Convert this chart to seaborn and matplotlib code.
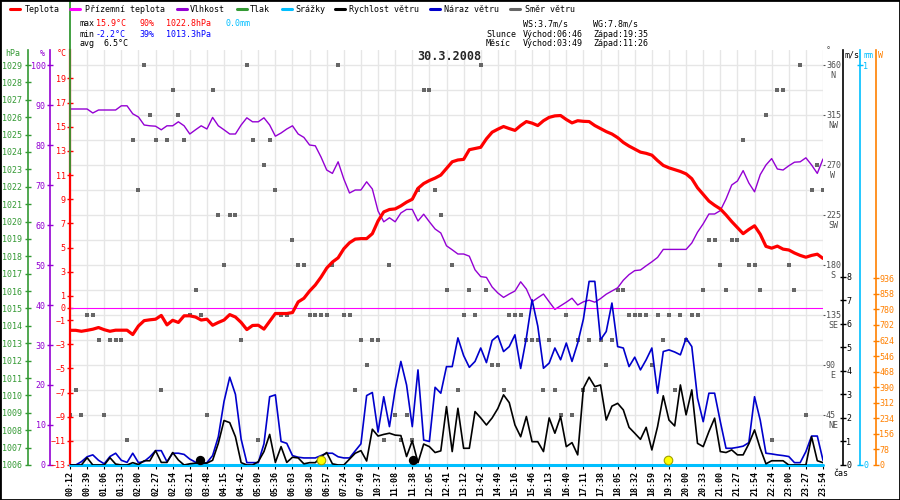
import numpy as np
import pandas as pd
import matplotlib
matplotlib.use("Agg")
import matplotlib.pyplot as plt
import matplotlib.transforms as mtransforms
from matplotlib.lines import Line2D
from matplotlib.patches import Rectangle
import seaborn as sns

# popisky casu na ose x (kazdy treti vzorek)
cas_labels = ["00:12", "00:39", "01:06", "01:33", "02:00", "02:27", "02:54", "03:21",
              "03:48", "04:15", "04:42", "05:09", "05:36", "06:03", "06:30", "06:57",
              "07:24", "07:49", "10:37", "11:08", "11:38", "12:05", "12:41", "13:12",
              "13:42", "14:49", "15:16", "15:46", "16:13", "16:40", "17:11", "17:38",
              "18:05", "18:32", "18:59", "19:32", "20:00", "20:33", "21:00", "21:27",
              "21:54", "22:24", "23:00", "23:27", "23:54"]

teplota = [-1.85, -1.85, -1.93, -1.85, -1.76, -1.62, -1.8, -1.93, -1.84, -1.84,
           -1.84, -2.2, -1.49, -1.05, -0.98, -0.93, -0.62, -1.4, -1.02, -1.2,
           -0.65, -0.65, -0.75, -1.0, -0.93, -1.43, -1.2, -1.0, -0.55, -0.75,
           -1.2, -1.79, -1.45, -1.43, -1.75, -1.1, -0.46, -0.46, -0.46, -0.38,
           0.5, 0.8, 1.4, 1.9, 2.55, 3.3, 3.8, 4.15, 4.9, 5.4,
           5.7, 5.74, 5.74, 6.15, 7.2, 7.95, 8.15, 8.2, 8.45, 8.76,
           9.0, 9.9, 10.3, 10.55, 10.75, 11.0, 11.55, 12.1, 12.25, 12.3,
           13.1, 13.2, 13.3, 14.0, 14.55, 14.8, 15.02, 14.85, 14.7, 15.1,
           15.43, 15.3, 15.1, 15.5, 15.78, 15.9, 15.93, 15.6, 15.32, 15.5,
           15.45, 15.43, 15.1, 14.85, 14.6, 14.4, 14.1, 13.7, 13.4, 13.15,
           12.9, 12.8, 12.65, 12.2, 11.8, 11.6, 11.45, 11.3, 11.1, 10.7,
           9.95, 9.4, 8.85, 8.5, 8.2, 7.7, 7.15, 6.65, 6.15, 6.5,
           6.8, 6.1, 5.1, 4.95, 5.12, 4.87, 4.8, 4.55, 4.35, 4.2,
           4.35, 4.45, 4.1]

vlhkost = [89.0, 89.0, 89.0, 89.0, 88.0, 88.75, 88.75, 88.75, 88.75, 89.8,
           89.8, 87.8, 87.0, 85.0, 84.8, 84.7, 83.8, 84.8, 84.8, 85.8,
           84.8, 82.75, 83.8, 84.8, 84.0, 86.9, 84.8, 83.8, 82.75, 82.75,
           85.0, 86.8, 85.8, 85.8, 86.8, 85.0, 82.2, 83.0, 84.0, 84.8,
           82.75, 81.9, 80.0, 79.8, 77.0, 73.75, 72.9, 75.8, 71.5, 68.0,
           68.75, 68.75, 70.8, 69.0, 63.5, 60.8, 61.8, 60.8, 63.0, 63.9,
           63.9, 61.0, 62.7, 60.8, 59.0, 58.0, 54.8, 53.8, 52.75, 52.75,
           52.2, 48.8, 47.1, 46.9, 44.5, 43.0, 41.9, 42.75, 43.5, 45.8,
           44.0, 40.8, 41.8, 42.75, 40.8, 38.9, 39.8, 40.7, 41.7, 40.0,
           40.8, 41.2, 40.7, 41.6, 42.7, 43.5, 44.3, 46.2, 47.6, 48.6,
           48.75, 49.8, 50.8, 51.9, 53.9, 53.9, 53.9, 53.9, 53.9, 55.5,
           58.2, 60.3, 62.75, 62.75, 63.6, 66.5, 70.0, 71.0, 73.6, 70.5,
           68.3, 72.6, 75.0, 76.6, 74.0, 73.75, 74.8, 75.7, 75.8, 76.8,
           75.0, 72.9, 76.5]

rychlost = [0, 0, 0, 0.31, 0, 0, 0, 0.31, 0.04, 0,
            0, 0.1, 0.02, 0.18, 0.18, 0.61, 0.11, 0.11, 0.53, 0.21,
            0, 0.05, 0.08, 0.08, 0.08, 0.2, 0.92, 1.89, 1.8, 1.2,
            0.1, 0, 0, 0.14, 0.57, 1.3, 0.11, 0.78, 0.11, 0.33,
            0.3, 0.05, 0.1, 0.1, 0.35, 0.53, 0.05, 0, 0, 0.25,
            0.5, 0.61, 0.17, 1.52, 1.23, 1.3, 1.35, 1.27, 1.25, 0.36,
            1.03, 0.1, 0.89, 0.78, 0.53, 0.6, 2.48, 0.57, 2.41, 0.71,
            0.71, 2.27, 2.0, 1.7, 2.0, 2.4, 2.98, 2.65, 1.7, 1.2,
            2.06, 0.99, 0.99, 0.57, 2.0, 1.35, 2.06, 0.78, 0.95, 0.43,
            3.26, 3.73, 3.33, 3.4, 1.91, 2.5, 2.62, 2.34, 1.6, 1.35,
            1.09, 1.6, 0.64, 1.63, 2.94, 1.91, 1.66, 3.4, 2.13, 3.19,
            0.92, 0.78, 1.42, 1.99, 0.57, 0.53, 0.64, 0.43, 0.43, 0.9,
            1.49, 0.7, 0.05, 0.18, 0.18, 0.18, 0, 0, 0, 0,
            1.2, 0.18, 0.1]

naraz = [0, 0, 0.14, 0.35, 0.43, 0.2, 0.05, 0.36, 0.5, 0.2,
         0.11, 0.5, 0.1, 0.15, 0.35, 0.61, 0.61, 0.14, 0.5, 0.5,
         0.45, 0.25, 0.12, 0.05, 0.1, 0.4, 1.2, 2.7, 3.73, 3.0,
         1.1, 0.1, 0.1, 0.1, 0.9, 2.9, 2.98, 1.0, 0.92, 0.4,
         0.33, 0.3, 0.3, 0.3, 0.4, 0.5, 0.5, 0.35, 0.3, 0.3,
         0.6, 0.9, 2.95, 3.08, 1.4, 2.9, 1.63, 3.2, 4.4, 3.4,
         1.63, 4.04, 1.06, 1.0, 3.3, 3.05, 4.18, 4.18, 5.4, 4.65,
         4.15, 4.4, 4.97, 4.35, 5.29, 5.49, 4.82, 5.03, 5.53, 4.1,
         5.4, 7.02, 5.9, 4.11, 4.33, 4.97, 4.47, 5.18, 4.4, 5.18,
         6.2, 7.8, 7.8, 5.32, 5.67, 6.88, 5.03, 4.97, 4.18, 4.58,
         4.04, 4.47, 4.97, 3.05, 4.82, 4.89, 4.8, 4.68, 5.39, 5.03,
         2.84, 1.84, 3.05, 3.05, 1.84, 0.71, 0.71, 0.75, 0.8, 0.95,
         2.9, 1.9, 0.5, 0.47, 0.43, 0.4, 0.36, 0.1, 0.1, 0.57,
         1.23, 1.23, 0.2]

smer = [45, 67.5, 45, 135, 135, 112.5, 45, 112.5, 112.5, 112.5,
        22.5, 292.5, 247.5, 360, 315, 292.5, 67.5, 292.5, 337.5, 315,
        292.5, 135, 157.5, 135, 45, 337.5, 225, 180, 225, 225,
        112.5, 360, 292.5, 22.5, 270, 292.5, 247.5, 135, 135, 202.5,
        180, 180, 135, 135, 135, 135, 180, 360, 135, 135,
        67.5, 112.5, 90, 112.5, 112.5, 22.5, 180, 45, 22.5, 45,
        22.5, 247.5, 337.5, 337.5, 247.5, 225, 157.5, 180, 67.5, 135,
        157.5, 135, 360, 157.5, 90, 90, 67.5, 135, 135, 135,
        112.5, 112.5, 112.5, 67.5, 112.5, 67.5, 45, 135, 45, 112.5,
        67.5, 112.5, 67.5, 112.5, 90, 112.5, 157.5, 157.5, 135, 135,
        135, 135, 90, 135, 112.5, 135, 67.5, 135, 112.5, 135,
        135, 157.5, 202.5, 202.5, 180, 157.5, 202.5, 202.5, 292.5, 180,
        180, 157.5, 315, 22.5, 337.5, 337.5, 180, 157.5, 360, 45,
        247.5, 270, 247.5]

tlak_max = 1022.8
prizemni = 0.0
srazky = 0.0
# vychod / zapad (poloha ve vzorcich)
slunce = [44.0, 104.8]
mesic = [22.8, 60.1]
udalost_y = 0.2

smer_ticks = [45, 90, 135, 180, 225, 270, 315, 360]
smer_nazvy = ["NE", "E", "SE", "S", "SW", "W", "NW", "N"]
teplota_ticks = [19, 17, 15, 13, 11, 9, 7, 5, 3, 1, 0, -1, -3, -5, -7, -9, -11, -13]
vlhkost_ticks = list(range(0, 101, 10))
tlak_ticks = list(range(1006, 1030))
vitr_ticks = list(range(0, 9))
srazky_ticks = [0, 1]
zareni_ticks = list(range(0, 937, 78))

C_T, C_PRIZ, C_H, C_P = "#ff0000", "#ff00ff", "#9400d3", "#339933"
C_SR, C_V, C_N, C_S, C_W = "#00bfff", "#000000", "#0000cc", "#666666", "#ff8000"
C_GRID = "#e6e6e6"

sns.set_style("white")
plt.rcParams["font.family"] = ["DejaVu Sans Mono", "DejaVu Sans"]
plt.rcParams["font.size"] = 6

W_PX, H_PX = 900, 500
L, R, T, B = 70, 823, 50, 465


def fx(px):
    return px / W_PX


def fy(py):
    return 1 - py / H_PX


df = pd.DataFrame({
    "vzorek": np.arange(len(teplota)),
    "teplota": teplota,
    "vlhkost": vlhkost,
    "rychlost": rychlost,
    "naraz": naraz,
    "smer": smer,
})

fig = plt.figure(figsize=(9, 5), dpi=100)
ax = fig.add_axes([fx(L), fy(B), (R - L) / W_PX, (B - T) / H_PX])
ax_h = ax.twinx()
ax_t = ax.twinx()
ax_p = ax.twinx()
ax_w = ax.twinx()
ax_mm = ax.twinx()
ax_v = ax.twinx()
ax.yaxis.tick_right()

# data
sns.scatterplot(data=df, x="vzorek", y="smer", ax=ax, marker="s", s=10,
                color=C_S, linewidth=0, zorder=3)
sns.lineplot(data=df, x="vzorek", y="vlhkost", ax=ax_h, color=C_H, linewidth=1.0)
ax_t.axhline(prizemni, color=C_PRIZ, linewidth=0.8, zorder=1)
sns.lineplot(data=df, x="vzorek", y="teplota", ax=ax_t, color=C_T, linewidth=2.3)
ax_mm.axhline(srazky, color=C_SR, linewidth=2.2, clip_on=False)
sns.lineplot(data=df, x="vzorek", y="naraz", ax=ax_v, color=C_N, linewidth=1.2)
sns.lineplot(data=df, x="vzorek", y="rychlost", ax=ax_v, color=C_V, linewidth=1.2)
sns.scatterplot(x=mesic, y=[udalost_y] * len(mesic), ax=ax_v, color="black",
                s=45, linewidth=0, clip_on=False, zorder=5)
sns.scatterplot(x=slunce, y=[udalost_y] * len(slunce), ax=ax_v, color="#ffff00",
                edgecolor="#a0a000", s=38, linewidth=0.8, clip_on=False, zorder=5)


def osa(a, side, pos, color, lim, ticks, pad=1.0):
    for sp in a.spines.values():
        sp.set_visible(False)
    sp = a.spines[side]
    sp.set_visible(True)
    sp.set_position(("axes", pos))
    sp.set_color(color)
    sp.set_linewidth(1.2)
    if side == "left":
        a.yaxis.tick_left()
    else:
        a.yaxis.tick_right()
    a.set_ylim(*lim)
    a.set_yticks(ticks)
    a.tick_params(axis="y", colors=color, direction="inout", length=4, width=1,
                  labelsize=6, pad=pad, left=(side == "left"), right=(side == "right"))
    a.set_ylabel("")


span = R - L
osa(ax_t, "left", 0.0, C_T, (-13, -13 + 415 / 12.08), teplota_ticks)
ax_t.spines["left"].set_linewidth(1.6)
osa(ax_h, "left", -20 / span, C_H, (0, 415 / 4.0), vlhkost_ticks)
osa(ax_p, "left", -42 / span, C_P, (1006, 1006 + 415 / 17.39), tlak_ticks, pad=2.5)
osa(ax_v, "right", 1 + 20 / span, C_V, (0, 415 / 23.54), vitr_ticks, pad=0.5)
osa(ax_mm, "right", 1 + 37 / span, C_SR, (0, 415 / 400), srazky_ticks, pad=0.5)
osa(ax_w, "right", 1 + 53 / span, C_W, (0, 415 * 936 / 186.7), zareni_ticks, pad=0.5)

# tlak: svisla cara od max hodnoty az k hornimu okraji obrazku
p_lo, p_hi = ax_p.get_ylim()
p_top = p_lo + B * (p_hi - p_lo) / (B - T)
ax_p.vlines(df["vzorek"].iloc[0], tlak_max, p_top, color=C_P, linewidth=1.3, clip_on=False)

# hlavni osa: smer vetru + mrizka
for sp in ax.spines.values():
    sp.set_visible(False)
ax.set_ylim(0, 415 * 0.9)
ax.set_yticks(smer_ticks)
ax.set_yticks(np.arange(22.5, 360, 45), minor=True)
ax.set_xlim(0, len(teplota) - 1)
ax.set_xticks(np.arange(0, len(teplota), 3))
ax.set_xticklabels(cas_labels, rotation=90, fontweight="bold")
ax.grid(True, axis="both", which="major", color=C_GRID, linewidth=1)
ax.grid(True, axis="y", which="minor", color=C_GRID, linewidth=1)
ax.tick_params(axis="x", bottom=True, length=3, width=0.8, pad=1.5, colors="black", labelsize=6)
ax.tick_params(axis="y", which="major", right=True, left=False, length=1.5, color="#555555",
               labelright=False, labelleft=False)
ax.tick_params(axis="y", which="minor", length=0, labelright=False, labelleft=False)
ax.set_xlabel("")
ax.set_ylabel("")

trans = mtransforms.blended_transform_factory(ax.transAxes, ax.transData)
for d, n in zip(smer_ticks, smer_nazvy):
    ax.text(1 + 3 / span, d, str(d), transform=trans, ha="left", va="center",
            color="#505050", fontsize=6)
    ax.annotate(n, xy=(1 + 10 / span, d), xycoords=trans, xytext=(0, -4),
                textcoords="offset points", ha="center", va="top", color="#505050", fontsize=6)


def txt(x, y, s, color="black", **kw):
    kw.setdefault("fontsize", 6)
    fig.text(fx(x), fy(y), s, color=color, ha=kw.pop("ha", "left"), va="center", **kw)


# nadpisy os
txt(13, 54, "hPa", C_P, ha="center")
txt(42, 54, "%", C_H, ha="center")
txt(62, 54, "°C", C_T, ha="center")
txt(828, 51, "°", "#505050", ha="center")
txt(852, 55, "m/s", "black", ha="center")
txt(868, 55, "mm", C_SR, ha="center")
txt(880, 55, "W", C_W, ha="center")
txt(833, 474, "čas", "black")

# legenda
legenda = [("Teplota", C_T, 10, 25), ("Přízemní teplota", C_PRIZ, 70, 85),
           ("Vlhkost", C_H, 177, 190), ("Tlak", C_P, 237, 250),
           ("Srážky", C_SR, 282, 295), ("Rychlost větru", C_V, 335, 349),
           ("Náraz větru", C_N, 430, 444), ("Směr větru", C_S, 510, 525)]
for name, col, x0, xt in legenda:
    fig.add_artist(Line2D([fx(x0), fx(x0 + 10)], [fy(9), fy(9)], color=col, linewidth=2.2))
    txt(xt, 9, name)

# souhrn
txt(80, 24, "max")
txt(96, 24, "15.9°C", C_T)
txt(139, 24, "90%", C_T)
txt(166, 24, "1022.8hPa", C_T)
txt(226, 24, "0.0mm", C_SR)
txt(80, 34, "min")
txt(96, 34, "-2.2°C", "#0000ff")
txt(139, 34, "39%", "#0000ff")
txt(166, 34, "1013.3hPa", "#0000ff")
txt(80, 44, "avg")
txt(104, 44, "6.5°C")
txt(523, 24, "WS:3.7m/s")
txt(593, 24, "WG:7.8m/s")
txt(486, 34, "Slunce")
txt(523, 34, "Východ:06:46")
txt(593, 34, "Západ:19:35")
txt(486, 44, "Měsíc")
txt(523, 44, "Východ:03:49")
txt(593, 44, "Západ:11:26")
fig.text(fx(449), fy(56), "30.3.2008", ha="center", va="center", fontsize=8.5, fontweight="bold")

fig.add_artist(Rectangle((0, 0), 1, 1, transform=fig.transFigure, fill=False,
                         edgecolor="black", linewidth=2))

fig.savefig("out.png", dpi=100)
